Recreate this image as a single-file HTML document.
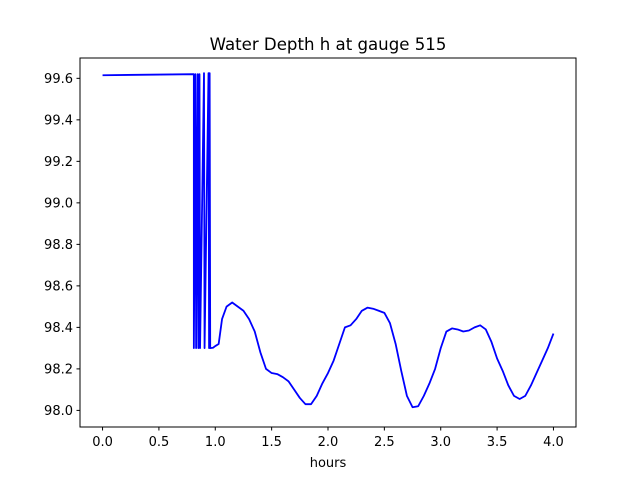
<!DOCTYPE html>
<html><head><meta charset="utf-8"><style>
html,body{margin:0;padding:0;background:#fff;}
svg text{font-family:"DejaVu Sans","Liberation Sans",sans-serif;fill:#000;}
</style></head><body>
<svg id="chart" width="640" height="480" viewBox="0 0 640 480" xmlns="http://www.w3.org/2000/svg">
<rect x="0" y="0" width="640" height="480" fill="#fff"/>
<text x="328" y="50" font-size="16.6" text-anchor="middle">Water Depth h at gauge 515</text>
<g id="xticks"></g>
<g id="yticks"></g>
<path id="series" fill="none" stroke="#0000ff" stroke-width="1.8" stroke-linejoin="round"/>
<rect x="80" y="58" width="496" height="369" fill="none" stroke="#000" stroke-width="1"/>
<text x="328" y="467" font-size="13" text-anchor="middle">hours</text>
</svg>
<script>
const hours = [0,0.81,0.81,0.825,0.83,0.845,0.85,0.86,0.865,0.9,0.905,0.94,0.945,0.95,0.955,0.98,1.0,1.03,1.06,1.1,
1.15,1.2,1.25,1.3,1.35,1.4,1.45,1.5,1.55,1.6,
1.65,1.7,1.75,1.8,1.85,1.9,1.95,2.0,2.05,2.1,
2.15,2.2,2.25,2.3,2.35,2.4,2.45,2.5,2.55,2.6,
2.65,2.7,2.75,2.8,2.85,2.9,2.95,3.0,3.05,3.1,
3.15,3.2,3.25,3.3,3.35,3.4,3.45,3.5,3.55,3.6,
3.65,3.7,3.75,3.8,3.85,3.9,3.95,4.0];
const depth = [99.615,99.62,98.30,99.62,98.30,99.62,98.30,99.62,98.30,99.625,98.30,99.625,98.30,99.625,98.30,98.302,98.31,98.32,98.44,98.50,
98.52,98.50,98.48,98.44,98.38,98.28,98.20,98.18,98.175,98.16,
98.14,98.10,98.06,98.03,98.03,98.07,98.13,98.18,98.24,98.32,
98.40,98.41,98.44,98.48,98.495,98.49,98.48,98.47,98.42,98.32,
98.19,98.07,98.015,98.02,98.07,98.13,98.20,98.30,98.38,98.395,
98.39,98.38,98.385,98.40,98.41,98.39,98.33,98.25,98.19,98.12,
98.07,98.055,98.07,98.12,98.18,98.24,98.30,98.37];
const xTickVals = [0,0.5,1,1.5,2,2.5,3,3.5,4];
const xTickLabels = ["0.0","0.5","1.0","1.5","2.0","2.5","3.0","3.5","4.0"];
const yTickVals = [98.0,98.2,98.4,98.6,98.8,99.0,99.2,99.4,99.6];
const yTickLabels = ["98.0","98.2","98.4","98.6","98.8","99.0","99.2","99.4","99.6"];

const X0=80,X1=576,Y0=58,Y1=427;
const xMin=-0.2,xMax=4.2,yMin=97.92,yMax=99.698;
function xs(v){return X0+(v-xMin)/(xMax-xMin)*(X1-X0);}
function ys(v){return Y1-(v-yMin)/(yMax-yMin)*(Y1-Y0);}
const NS="http://www.w3.org/2000/svg";
let d="";
const n=Math.min(hours.length,depth.length);
for(let i=0;i<n;i++){d+=(i?"L":"M")+xs(hours[i]).toFixed(2)+","+ys(depth[i]).toFixed(2);}
document.getElementById("series").setAttribute("d",d);
const gx=document.getElementById("xticks");
xTickVals.forEach((v,i)=>{
  const x=xs(v);
  const t=document.createElementNS(NS,"line");
  
  
  t.setAttribute("x1",x);t.setAttribute("x2",x);t.setAttribute("y1",Y1);t.setAttribute("y2",Y1+3.5);t.setAttribute("stroke","#000");
  gx.appendChild(t);
  const l=document.createElementNS(NS,"text");
  
  
  l.setAttribute("x",x);l.setAttribute("y",Y1+19);l.setAttribute("font-size","13");l.setAttribute("text-anchor","middle");
  l.textContent=xTickLabels[i];gx.appendChild(l);
});
const gy=document.getElementById("yticks");
yTickVals.forEach((v,i)=>{
  const y=ys(v);
  const t=document.createElementNS(NS,"line");
  
  
  t.setAttribute("x1",X0-3.5);t.setAttribute("x2",X0);t.setAttribute("y1",y);t.setAttribute("y2",y);t.setAttribute("stroke","#000");
  gy.appendChild(t);
  const l=document.createElementNS(NS,"text");
  
  
  l.setAttribute("x",X0-7);l.setAttribute("y",y+4.8);l.setAttribute("font-size","13");l.setAttribute("text-anchor","end");
  l.textContent=yTickLabels[i];gy.appendChild(l);
});
</script>
</body></html>
